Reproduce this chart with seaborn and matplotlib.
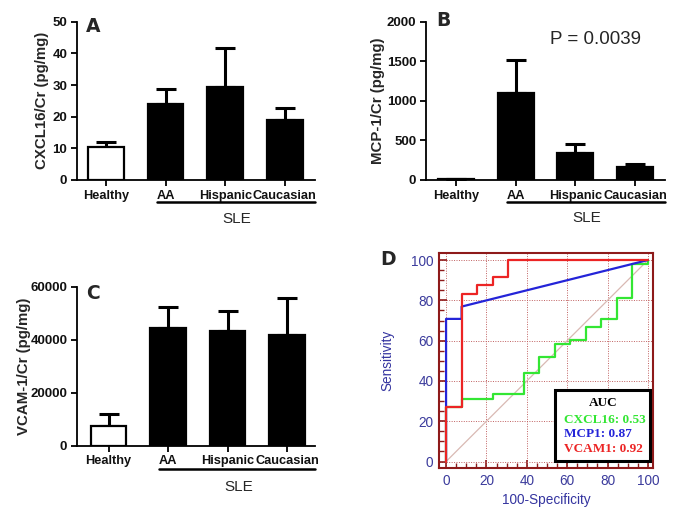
import numpy as np
import pandas as pd
import matplotlib
matplotlib.use("Agg")
import matplotlib.pyplot as plt
import seaborn as sns
from matplotlib.ticker import MultipleLocator
from matplotlib.patches import Rectangle

sns.set_style("white")
plt.rcParams['font.family'] = ['Liberation Sans', 'DejaVu Sans']

# ---------------- data ----------------
groups = ["Healthy", "AA", "Hispanic", "Caucasian"]

cxcl16_mean = [10.5, 24.0, 29.3, 18.8]
cxcl16_upper = [12.0, 28.9, 41.8, 22.7]

mcp1_mean = [8, 1095, 337, 164]
mcp1_upper = [14, 1516, 459, 200]

vcam1_mean = [7400, 44300, 43400, 41900]
vcam1_upper = [11800, 52500, 50800, 55700]

# ROC curves (100-Specificity, Sensitivity) step vertices
cxcl16_fpr = [0, 0, 7.69, 7.69, 23.08, 23.08, 38.46, 38.46, 46.15, 46.15, 53.85, 53.85,
              61.54, 61.54, 69.23, 69.23, 76.92, 76.92, 84.62, 84.62, 92.31, 92.31, 100, 100]
cxcl16_tpr = [0, 27, 27, 31.25, 31.25, 33.33, 33.33, 43.75, 43.75, 52.08, 52.08, 58.33,
              58.33, 60.42, 60.42, 66.67, 66.67, 70.83, 70.83, 81.25, 81.25, 97.92, 97.92, 100]
mcp1_fpr = [0, 0, 7.69, 7.69, 100]
mcp1_tpr = [0, 70.8, 70.8, 76.9, 100]
vcam1_fpr = [0, 0, 7.69, 7.69, 15.38, 15.38, 23.08, 23.08, 30.77, 30.77, 100]
vcam1_tpr = [0, 27, 27, 83.33, 83.33, 87.5, 87.5, 91.67, 91.67, 100, 100]

auc_labels = ["CXCL16: 0.53", "MCP1: 0.87", "VCAM1: 0.92"]
p_text = "P = 0.0039"

# ---------------- figure ----------------
W, H = 685, 518
fig = plt.figure(figsize=(W / 100, H / 100), dpi=100)


def px_axes(left, right, top, bottom):
    return fig.add_axes([left / W, 1 - bottom / H, (right - left) / W, (bottom - top) / H])


bar_colors = ["white", "black", "black", "black"]


def bar_panel(ax, means, uppers, ylim, yticks, ylabel, xlim, letter, letter_xy, label_x, sle_y, sle_text_y):
    df = pd.DataFrame({"group": groups, "value": means})
    sns.barplot(data=df, x="group", y="value", hue="group", palette=bar_colors, legend=False,
                edgecolor="black", linewidth=1.6, width=0.6, ax=ax, saturation=1)
    x = np.arange(len(groups))
    lower = np.zeros(len(groups))
    upper = np.array(uppers) - np.array(means)
    ax.errorbar(x, means, yerr=[lower, upper], fmt="none", ecolor="black",
                elinewidth=2.2, capsize=7, capthick=2.2, zorder=1)
    for p in ax.patches:
        p.set_zorder(2)
    ax.set_ylim(*ylim)
    ax.set_xlim(*xlim)
    ax.set_yticks(yticks)
    ax.set_xlabel("")
    ax.set_ylabel(ylabel, fontsize=10.8, fontweight="bold")
    ax.yaxis.set_label_coords(label_x, 0.5)
    sns.despine(ax=ax)
    for s in ["left", "bottom"]:
        ax.spines[s].set_linewidth(1.3)
        ax.spines[s].set_color("black")
    ax.tick_params(axis="both", direction="out", length=4.5, width=1.3, colors="black",
                   labelsize=9.5, pad=2.5, bottom=True, left=True)
    ax.tick_params(axis="x", labelsize=9.2)
    for t in ax.get_xticklabels() + ax.get_yticklabels():
        t.set_fontweight("bold")
        t.set_color("#111111")
    trans = ax.get_xaxis_transform()
    ax.plot([0.85, xlim[1]], [sle_y, sle_y], color="black", lw=1.8, transform=trans, clip_on=False)
    ax.text((0.85 + xlim[1]) / 2 + 0.02, sle_text_y, "SLE", transform=trans, ha="center",
            va="center", fontsize=11)
    fig.text(letter_xy[0] / W, 1 - letter_xy[1] / H, letter, fontsize=13.5, fontweight="bold",
             family="DejaVu Sans", ha="left", va="baseline")


axA = px_axes(77, 315, 21.7, 180)
bar_panel(axA, cxcl16_mean, cxcl16_upper, (0, 50), [0, 10, 20, 30, 40, 50],
          "CXCL16/Cr (pg/mg)", (-0.487, 3.507), "A", (86, 32), -0.118, -0.139, -0.246)

axB = px_axes(426, 665, 21.7, 180)
bar_panel(axB, mcp1_mean, mcp1_upper, (0, 2000), [0, 500, 1000, 1500, 2000],
          "MCP-1/Cr (pg/mg)", (-0.50, 3.50), "B", (436, 26), -0.172, -0.139, -0.240)
axB.text(1.57, 1769, p_text, fontsize=13.5, ha="left", va="center")

axC = px_axes(77, 315, 286.7, 445.7)
bar_panel(axC, vcam1_mean, vcam1_upper, (0, 60000), [0, 20000, 40000, 60000],
          "VCAM-1/Cr (pg/mg)", (-0.53, 3.47), "C", (86, 299), -0.193, -0.147, -0.26)

# ---------------- ROC panel ----------------
axD = px_axes(439, 653, 253, 468)
frame_col = "#8E1A1A"
axD.set_xlim(-3.5, 102.5)
axD.set_ylim(-3.2, 103.5)
axD.plot([0, 100], [0, 100], color="#D9B9B3", lw=0.9, zorder=1)
roc = [
    (cxcl16_fpr, cxcl16_tpr, "#33E633"),
    (mcp1_fpr, mcp1_tpr, "#2424D8"),
    (vcam1_fpr, vcam1_tpr, "#EC2424"),
]
for i, (fx, ty, col) in enumerate(roc):
    d = pd.DataFrame({"fpr": fx, "tpr": ty})
    sns.lineplot(data=d, x="fpr", y="tpr", sort=False, estimator=None, color=col,
                 lw=1.6, ax=axD, zorder=3 + i)
axD.set_xticks([0, 20, 40, 60, 80, 100])
axD.set_yticks([0, 20, 40, 60, 80, 100])
axD.xaxis.set_minor_locator(MultipleLocator(5))
axD.yaxis.set_minor_locator(MultipleLocator(5))
axD.grid(True, which="major", color="#C06060", linestyle=(0, (1, 1.5)), lw=0.7, zorder=0)
for s in axD.spines.values():
    s.set_visible(True)
    s.set_color(frame_col)
    s.set_linewidth(1.5)
axD.tick_params(axis="both", which="major", direction="in", length=6, width=1.2,
                color=frame_col, labelcolor="#3B3B9C", labelsize=9.8, pad=4,
                bottom=True, left=True)
axD.tick_params(axis="both", which="minor", direction="in", length=3.5, width=1.0,
                color=frame_col, bottom=True, left=True)
axD.set_xlabel("100-Specificity", fontsize=9.8, color="#3535A0", labelpad=4)
axD.set_ylabel("Sensitivity", fontsize=9.8, color="#3535A0")
axD.yaxis.set_label_coords(-0.206, 0.5)

# AUC legend box
axD.add_patch(Rectangle((54, 0.3), 47, 35, facecolor="white", edgecolor="black", lw=2.2, zorder=10))
serif = ["Liberation Serif", "DejaVu Serif"]
axD.text(77.6, 29, "AUC", ha="center", va="center", fontsize=9.5, fontweight="bold",
         family=serif, color="black", zorder=11)
auc_cols = ["#33E633", "#2424D8", "#EC2424"]
for lab, col, yy in zip(auc_labels, auc_cols, [20.6, 13.7, 6.2]):
    axD.text(58.4, yy, lab, ha="left", va="center", fontsize=9.5, fontweight="bold",
             family=serif, color=col, zorder=11)
fig.text(380 / W, 1 - 265 / H, "D", fontsize=13.5, fontweight="bold", family="DejaVu Sans",
         ha="left", va="baseline")

fig.savefig("out.png", dpi=100, facecolor="white")
